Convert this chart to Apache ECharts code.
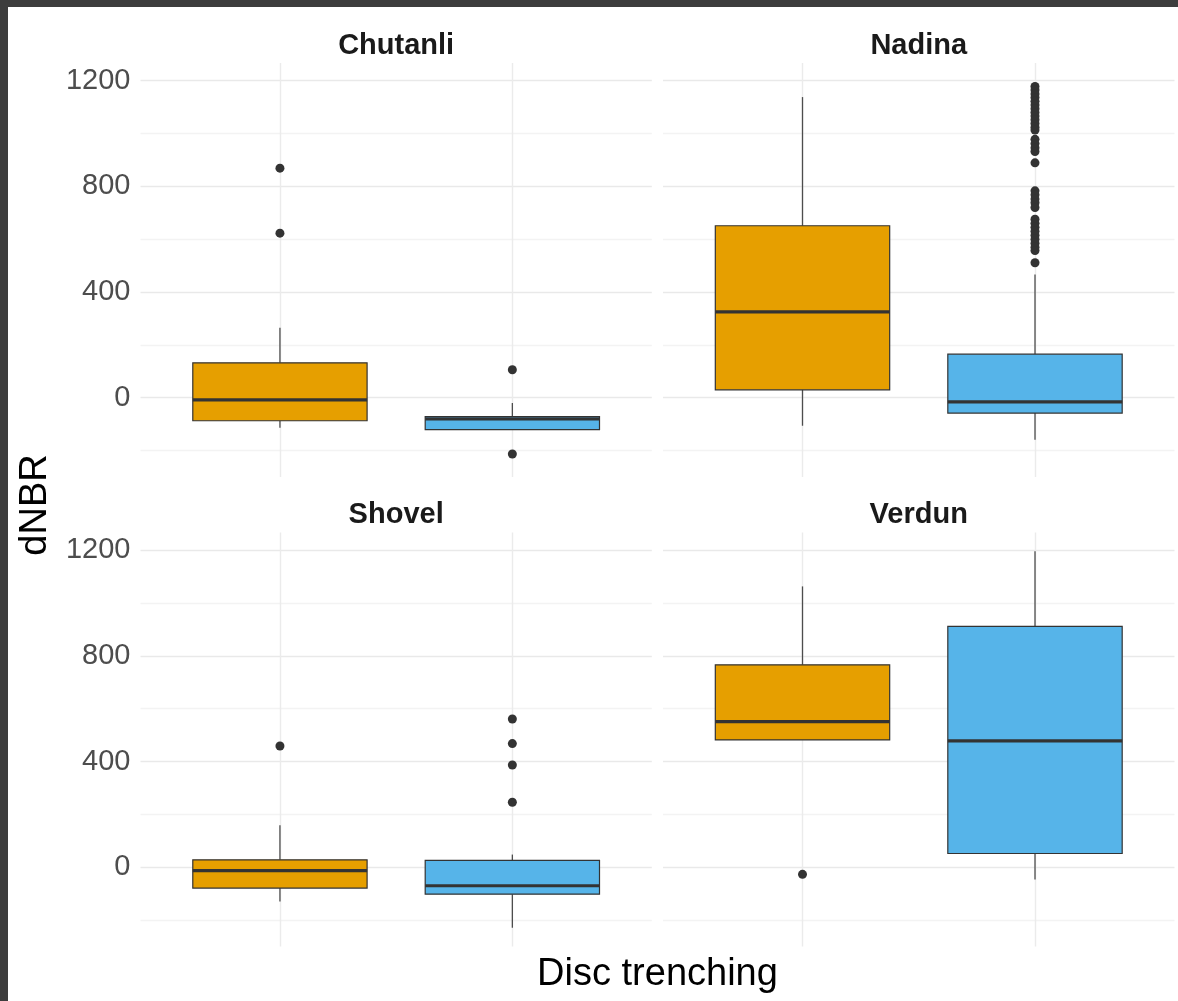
<!DOCTYPE html>
<html><head><meta charset="utf-8">
<script src="https://cdn.jsdelivr.net/npm/echarts@6/dist/echarts.min.js"></script>
<style>
html,body{margin:0;padding:0;background:#3d3d3d;width:1178px;height:1001px;overflow:hidden}
#chart{position:absolute;left:8px;top:7px;width:1170px;height:994px;background:#fff}
</style></head><body><div id="chart"></div>
<script>
// ---- data ----
const panelNames = ['Chutanli', 'Nadina', 'Shovel', 'Verdun'];
const groupPositions = [1, 2];
const groupColors = ['#E69F00', '#56B4E9'];
// box stats: [lower whisker, Q1, median, Q3, upper whisker]
const chutanliOrange = [-114, -87, -8, 132, 265];
const chutanliBlue   = [-122, -121, -80, -71, -20];
const nadinaOrange   = [-106, 30, 325, 651, 1138];
const nadinaBlue     = [-159, -58, -16, 165, 466];
const shovelOrange   = [-130, -79, -13, 28, 159];
const shovelBlue     = [-229, -102, -70, 26, 48];
const verdunOrange   = [482, 482, 551, 766, 1063];
const verdunBlue     = [-46, 52, 478, 912, 1196];
// outliers
const chutanliOrangeOut = [869, 623];
const chutanliBlueOut   = [106, -213];
const nadinaOrangeOut   = [];
const nadinaBlueOut     = [1178, 1165, 1150, 1136, 1122, 1108, 1094, 1080, 1066, 1052, 1038, 1024, 1013,
                           978, 962, 946, 932, 889, 783, 768, 752, 738, 720, 676, 660, 645, 630, 615, 600, 585, 570, 557, 511];
const shovelOrangeOut   = [459];
const shovelBlueOut     = [561, 468, 387, 246];
const verdunOrangeOut   = [-27];
const verdunBlueOut     = [];
const yTickLabels = [0, 400, 800, 1200];
const yMin = -300, yMax = 1267;

const boxStats = [[chutanliOrange, chutanliBlue], [nadinaOrange, nadinaBlue], [shovelOrange, shovelBlue], [verdunOrange, verdunBlue]];
const outliers = [[chutanliOrangeOut, chutanliBlueOut], [nadinaOrangeOut, nadinaBlueOut], [shovelOrangeOut, shovelBlueOut], [verdunOrangeOut, verdunBlueOut]];

// ---- layout ----
const FONT = '"Liberation Sans", Arial, Helvetica, sans-serif';
const gridDefs = [
  {left: 132.5, top: 56, width: 511.3, height: 414},
  {left: 655, top: 56, width: 511.5, height: 414},
  {left: 132.5, top: 525.5, width: 511.3, height: 414},
  {left: 655, top: 525.5, width: 511.5, height: 414}
];
const BOX_W = 0.75;
const T = 'rgba(0,0,0,0)';

function renderBox(params, api) {
  const x = api.value(0);
  const lo = api.coord([x, api.value(1)]);
  const q1 = api.coord([x, api.value(2)]);
  const md = api.coord([x, api.value(3)]);
  const q3 = api.coord([x, api.value(4)]);
  const hi = api.coord([x, api.value(5)]);
  const half = api.size([BOX_W, 0])[0] / 2;
  const fill = groupColors[params.dataIndex];
  const stroke = '#333333';
  const wStroke = '#4d4d4d';
  return {
    type: 'group',
    children: [
      {type: 'line', shape: {x1: hi[0], y1: hi[1], x2: q3[0], y2: q3[1]}, style: {stroke: wStroke, lineWidth: 1.3}},
      {type: 'line', shape: {x1: lo[0], y1: lo[1], x2: q1[0], y2: q1[1]}, style: {stroke: wStroke, lineWidth: 1.3}},
      {type: 'rect', shape: {x: q3[0] - half, y: q3[1], width: 2 * half, height: q1[1] - q3[1]},
        style: {fill: fill, stroke: stroke, lineWidth: 1.2}},
      {type: 'line', shape: {x1: md[0] - half, y1: md[1], x2: md[0] + half, y2: md[1]}, style: {stroke: stroke, lineWidth: 3.2}}
    ]
  };
}

const grid = [], xAxis = [], yAxis = [], series = [], graphic = [];
for (let p = 0; p < 4; p++) {
  grid.push(Object.assign({containLabel: false}, gridDefs[p]));
  xAxis.push({
    type: 'value', gridIndex: p, min: 0.4, max: 2.6, interval: 0.2,
    axisLine: {show: false}, axisTick: {show: false}, axisLabel: {show: false},
    splitLine: {show: true, lineStyle: {color: [T, T, T, '#ebebeb', T], width: 1.4}}
  });
  yAxis.push({
    type: 'value', gridIndex: p, min: yMin, max: yMax, interval: 100,
    axisLine: {show: false}, axisTick: {show: false},
    axisLabel: {show: p % 2 === 0, color: '#4d4d4d', fontSize: 29, fontFamily: FONT, margin: 10,
      formatter: v => (yTickLabels.indexOf(v) >= 0 ? String(v) : '')},
    splitLine: {show: true, lineStyle: {color: [T, '#f3f3f3', T, '#e9e9e9'], width: 1.4}}
  });
  series.push({
    type: 'custom', xAxisIndex: p, yAxisIndex: p, renderItem: renderBox, clip: false,
    encode: {x: 0, y: [1, 2, 3, 4, 5]},
    data: groupPositions.map((g, i) => [g].concat(boxStats[p][i])),
    z: 2
  });
  const pts = [];
  groupPositions.forEach((g, i) => outliers[p][i].forEach(v => pts.push([g, v])));
  series.push({
    type: 'scatter', xAxisIndex: p, yAxisIndex: p, data: pts, symbol: 'circle', symbolSize: 9,
    itemStyle: {color: '#333333', opacity: 1}, z: 3, silent: true
  });
  const g = gridDefs[p];
  graphic.push({
    type: 'text', x: g.left + g.width / 2, y: g.top - 17.5,
    style: {text: panelNames[p], fontSize: 29, fontWeight: 'bold', fontFamily: FONT,
      fill: '#1a1a1a', align: 'center', verticalAlign: 'middle'}
  });
}
graphic.push({
  type: 'text', x: 28, y: 498, rotation: Math.PI / 2,
  style: {text: 'dNBR', fontSize: 38, fontFamily: FONT, fill: '#000', align: 'center', verticalAlign: 'middle'}
});
graphic.push({
  type: 'text', x: 649.5, y: 968,
  style: {text: 'Disc trenching', fontSize: 38, fontFamily: FONT, fill: '#000', align: 'center', verticalAlign: 'middle'}
});

const chart = echarts.init(document.getElementById('chart'), null, {renderer: 'canvas'});
chart.setOption({
  backgroundColor: '#ffffff',
  animation: false,
  grid: grid, xAxis: xAxis, yAxis: yAxis, series: series, graphic: graphic
});
</script></body></html>
